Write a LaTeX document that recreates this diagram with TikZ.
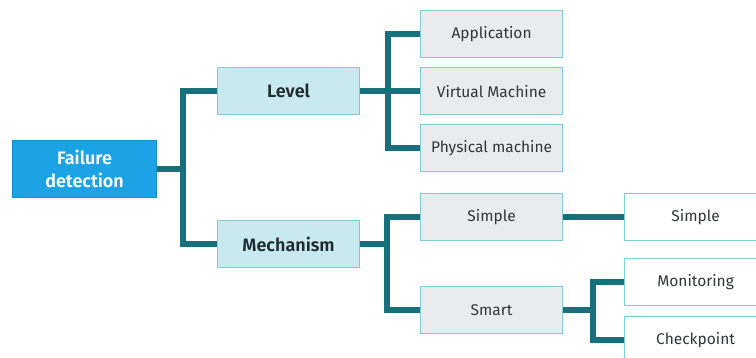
\documentclass[tikz,border=0pt]{standalone}
\usepackage{fontspec}
\setmainfont{Fira Sans}[BoldFont={Fira Sans SemiBold}]
\definecolor{linkteal}{HTML}{17707C}
\definecolor{rootblue}{HTML}{1BA3E6}
\definecolor{rootedge}{HTML}{1590CC}
\definecolor{midfill}{HTML}{C8E9EE}
\definecolor{boxedge}{HTML}{7FCCD4}
\definecolor{leaffill}{HTML}{E9EBED}
\definecolor{textdark}{HTML}{1E2A30}
\definecolor{textgray}{HTML}{333638}
\tikzset{
  box/.style={draw=boxedge, line width=1.2pt, anchor=north west, inner sep=0pt,
    align=center, font=\fontsize{15.5}{18}\selectfont, text=textgray},
  rootbox/.style={box, draw=rootedge, fill=rootblue, text=white,
    minimum width=144pt, minimum height=57pt, font=\fontsize{18}{23}\selectfont\bfseries},
  midbox/.style={box, fill=midfill, text=textdark,
    minimum width=142pt, minimum height=47pt, font=\fontsize{18}{20}\selectfont\bfseries},
  leafbox/.style={box, fill=leaffill, minimum width=142pt, minimum height=47pt},
  endbox/.style={box, fill=white, minimum width=150pt, minimum height=47pt, text width=132pt, align=center},
  conn/.style={draw=linkteal, line width=5.5pt, line join=miter}
}
\begin{document}
\begin{tikzpicture}[x=1pt,y=-1pt]
\useasboundingbox (0,0) rectangle (756,357);
\clip (0,0) rectangle (756,357);

% boxes
\node[rootbox] (fd) at (12,140) {Failure\\detection};
\node[midbox] (lvl) at (217,67) {Level};
\node[midbox] (mech) at (217,220) {Mechanism};
\node[leafbox] (app) at (420,10) {Application};
\node[leafbox] (vm) at (420,67) {Virtual Machine};
\node[leafbox] (phy) at (420,124) {Physical machine};
\node[leafbox] (sim) at (420,193) {Simple};
\node[leafbox] (sma) at (420,286) {Smart};
\node[endbox] (sim2) at (624,193) {\hspace*{-8pt}Simple};
\node[endbox] (mon) at (624,258) {\hspace*{-8pt}Monitoring};
\node[endbox] (chk) at (624,316) {\hspace*{-8pt}Checkpoint};

% junction columns of the tree
\coordinate (fdj) at (183,168.5);
\coordinate (lvj) at (388,90.5);
\coordinate (mej) at (387,244);
\coordinate (smj) at (593,309.5);

% connectors
\draw[conn] (fd.east) -- (fd.east -| fdj);
\draw[conn] (lvl.west) -| (fdj) |- (mech.west);
\draw[conn] (lvl.east) -- (lvl.east -| vm.west);
\draw[conn] (app.west) -| (lvj) |- (phy.west);
\draw[conn] (mech.east) -- (mech.east -| mej);
\draw[conn] (sim.west) -| (mej) |- (sma.west);
\draw[conn] (sim.east) -- (sim.east -| sim2.west);
\draw[conn] (sma.east) -- (sma.east -| smj);
\draw[conn] (mon.west) -| (smj) |- (chk.west);
\end{tikzpicture}
\end{document}
